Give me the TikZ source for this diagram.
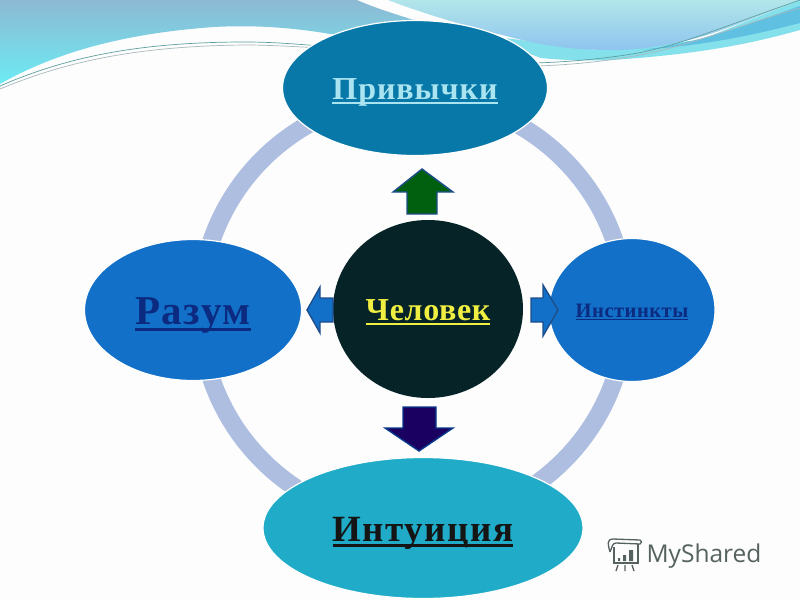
\documentclass[tikz,border=0pt]{standalone}
\usepackage{fontspec}
\setmainfont{Liberation Serif}
\newfontfamily\logofont{Open Sans}
\usetikzlibrary{shapes.geometric}
\newcommand{\ulx}[1]{\setbox0=\hbox{#1}\raisebox{-0.36em}[0pt][0pt]{\hbox{\copy0\kern-\wd0\rule[-0.14em]{\wd0}{0.055em}}}}
\definecolor{bgw}{HTML}{FDFDFD}
\definecolor{ringc}{HTML}{AEBEE0}
\definecolor{habit}{HTML}{0878A8}
\definecolor{blueb}{HTML}{1270C8}
\definecolor{intu}{HTML}{20ACC8}
\definecolor{core}{HTML}{062428}
\definecolor{edge}{HTML}{1F4E8C}
\definecolor{logoc}{HTML}{55625F}
\definecolor{navyt}{HTML}{0B2A80}
\definecolor{paleT}{HTML}{A9E4F0}
\definecolor{yelT}{HTML}{F0EE40}
\definecolor{darkT}{HTML}{151515}
\definecolor{upA}{HTML}{006010}
\definecolor{downA}{HTML}{1A0060}
\definecolor{downE}{HTML}{0A3A8C}
\definecolor{cyanW}{HTML}{84E0EA}
\definecolor{bandW}{HTML}{5FC0E2}
\definecolor{lineA}{HTML}{5E9FA0}
\definecolor{lineB}{HTML}{A8B8BC}
\definecolor{lT}{HTML}{8DB9D3}
\definecolor{lB}{HTML}{6CEBF3}
\definecolor{rT}{HTML}{B2E6EA}
\definecolor{rB}{HTML}{8EC4EE}
\tikzset{
  blob/.style={ellipse,draw=white,line width=1.2pt,inner sep=0pt,align=center},
  barrow/.style={draw=edge,line width=1.4pt,line join=miter},
  thin wave/.style={draw=#1,line width=0.7pt},
  logoline/.style={draw=logoc,line width=1.3pt}
}
\begin{document}
\begin{tikzpicture}[x=1pt,y=-1pt]
\useasboundingbox (0,0) rectangle (800,600);
\fill[bgw] (0,0) rectangle (800,600);
% waves, upper left
\shade[top color=lT,bottom color=lB]
  (0,0) -- (357,0) .. controls (375,8) and (395,14) .. (420,22) -- (420,40) -- (330,34)
  .. controls (290,27) and (250,25) .. (214,27) .. controls (130,33) and (60,50) .. (0,84) -- cycle;
\draw[thin wave=lineA] (0,86) .. controls (60,60) and (130,42) .. (245,42) .. controls (265,42) and (285,43) .. (320,46);
\draw[thin wave=lineB] (0,89) .. controls (60,64) and (130,46) .. (245,45) .. controls (265,45) and (285,46) .. (320,48);
% waves, upper right
\fill[cyanW] (505,38) -- (597,50) -- (700,40) -- (800,0) -- (800,30) .. controls (750,44) and (700,54) .. (612,60) .. controls (585,61) and (560,60) .. (541,58) .. controls (530,54) and (520,50) .. (505,45) -- cycle;
\fill[bandW] (640,50) .. controls (700,44) and (760,20) .. (800,6) -- (800,23) .. controls (750,36) and (700,46) .. (640,50) -- cycle;
\shade[top color=rT,bottom color=rB]
  (388,0) .. controls (430,16) and (470,27) .. (510,37) .. controls (540,45) and (570,50) .. (612,50)
  .. controls (645,50) and (675,44) .. (704,36) .. controls (735,26) and (760,16) .. (800,0) -- cycle;
\draw[thin wave=lineA] (535,63) .. controls (570,62) and (610,58) .. (638,53) .. controls (680,45) and (720,28) .. (800,0);
\draw[thin wave=lineB] (535,66) .. controls (575,65) and (615,60) .. (645,54) .. controls (690,45) and (740,25) .. (800,8);
% ring
\draw[ringc,line width=18pt] (413,310) circle[radius=213];
% nodes
\node[blob,fill=habit,minimum width=265pt,minimum height=135pt,text=paleT,font=\bfseries\fontsize{32}{32}\selectfont\addfontfeature{LetterSpace=3}] (habits) at (415,88) {\ulx{Привычки}};
\node[blob,fill=blueb,minimum width=166pt,minimum height=143pt,text=navyt,font=\bfseries\fontsize{20.5}{20.5}\selectfont\addfontfeature{LetterSpace=2.5}] (instinct) at (632,310) {\ulx{Инстинкты}};
\node[blob,fill=intu,minimum width=320pt,minimum height=141pt,text=darkT,font=\bfseries\fontsize{37}{37}\selectfont\addfontfeature{LetterSpace=4}] (intuition) at (423,528) {\ulx{Интуиция}};
\node[blob,fill=blueb,minimum width=217pt,minimum height=141pt,text=navyt,font=\bfseries\fontsize{41}{41}\selectfont\addfontfeature{LetterSpace=4}] (reason) at (193,310) {\ulx{Разум}};
\node[blob,fill=core,draw=none,minimum width=190pt,minimum height=178pt,text=yelT,font=\bfseries\fontsize{32}{32}\selectfont\addfontfeature{LetterSpace=2}] (man) at (428,309) {\ulx{Человек}};
% block arrows
\draw[barrow,fill=upA] (407,214) -- (407,192) -- (393,192) -- (422,169) -- (453,192) -- (437,192) -- (437,214) -- cycle;
\draw[barrow,fill=downA,draw=downE] (403,407) -- (436,407) -- (436,428) -- (453,428) -- (419,451) -- (385,428) -- (403,428) -- cycle;
\draw[barrow,fill=blueb] (333,298) -- (320,298) -- (320,287) -- (307,310) -- (320,333) -- (320,322) -- (333,322) -- cycle;
\draw[barrow,fill=blueb] (531,298) -- (543,298) -- (543,285) -- (558,310) -- (543,336) -- (543,322) -- (531,322) -- cycle;
% logo
\draw[logoline,fill=none] (614,547) -- (614,563) -- (638,563) -- (638,544);
\draw[logoline] (610,552) .. controls (607,542) and (608,539) .. (613,539) -- (640,540) .. controls (642,541) and (642,543) .. (640,544) -- (616,543) .. controls (612,543) and (612,548) .. (610,552);
\fill[logoc] (618,558) rectangle (620,561) (623,555) rectangle (626,561) (629,550) rectangle (633,561);
\draw[logoline] (618,565) -- (616,571) (625,565) -- (625,571) (632,565) -- (634,571);
\node[inner sep=0pt,text=logoc,font=\logofont\fontsize{24.5}{24.5}\selectfont] (logo) at (704,556) {MyShared};
\end{tikzpicture}
\end{document}
